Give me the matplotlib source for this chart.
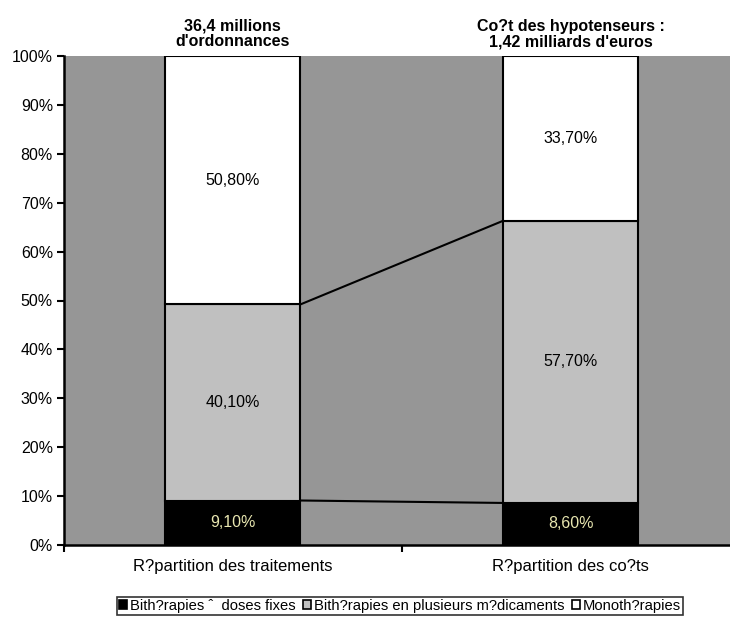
import matplotlib
matplotlib.use("Agg")
import matplotlib.pyplot as plt
from matplotlib.patches import Patch

plt.rcParams['font.family'] = ['Liberation Sans', 'DejaVu Sans']

categories = ["R?partition des traitements", "R?partition des co?ts"]
titles = ["36,4 millions\nd'ordonnances", "Co?t des hypotenseurs :\n1,42 milliards d'euros"]
series_names = ["Bith?rapies ˆ  doses fixes", "Bith?rapies en plusieurs m?dicaments", "Monoth?rapies"]
fixed = [9.1, 8.6]
multi = [40.1, 57.7]
mono = [50.8, 33.7]
labels_fixed = ["9,10%", "8,60%"]
labels_multi = ["40,10%", "57,70%"]
labels_mono = ["50,80%", "33,70%"]
yticks = [0, 10, 20, 30, 40, 50, 60, 70, 80, 90, 100]

colors = ["#000000", "#C0C0C0", "#FFFFFF"]
fs = 11.5
fig = plt.figure(figsize=(7.30, 6.17), dpi=100)
ax = fig.add_axes([64/730, 72/617, (739.5-64)/730, (545-56)/617])
ax.set_facecolor("#969696")
x = [0, 1]
w = 0.4
ax.bar(x, fixed, w, color=colors[0], edgecolor="black", linewidth=1.5, zorder=3)
ax.bar(x, multi, w, bottom=fixed, color=colors[1], edgecolor="black", linewidth=1.5, zorder=3)
bottom3 = [a + b for a, b in zip(fixed, multi)]
ax.bar(x, mono, w, bottom=bottom3, color=colors[2], edgecolor="black", linewidth=1.5, zorder=3)

# series lines
ax.plot([x[0] + w/2, x[1] - w/2], [fixed[0], fixed[1]], color="black", lw=1.5, zorder=4)
ax.plot([x[0] + w/2, x[1] - w/2], [bottom3[0], bottom3[1]], color="black", lw=1.5, zorder=4)

for i in range(2):
    ax.text(x[i], fixed[i]/2, labels_fixed[i], ha="center", va="center", color="#E8E6B0", fontsize=fs, zorder=5)
    ax.text(x[i], fixed[i] + multi[i]/2, labels_multi[i], ha="center", va="center", color="black", fontsize=fs, zorder=5)
    ax.text(x[i], bottom3[i] + mono[i]/2, labels_mono[i], ha="center", va="center", color="black", fontsize=fs, zorder=5)
    ax.text(x[i], 101.4, titles[i], ha="center", va="bottom", fontsize=fs, fontweight="bold",
            linespacing=1.05, clip_on=False)

ax.set_ylim(0, 100)
ax.set_xlim(-0.5, 1.5)
ax.set_yticks(yticks)
ax.set_yticklabels([f"{v}%" for v in yticks], fontsize=fs)
ax.set_xticks([-0.5, 0.5, 1.5])
ax.set_xticklabels([])
ax.set_xticks(x, minor=True)
ax.set_xticklabels(categories, minor=True, fontsize=12)
ax.tick_params(axis="x", which="minor", length=0, pad=10)
ax.tick_params(axis="x", which="major", length=5, width=1.5, direction="out")
ax.tick_params(axis="y", length=5, width=1.5, direction="out", pad=3)
for s in ["top", "right"]:
    ax.spines[s].set_visible(False)
ax.spines["left"].set_linewidth(1.8)
ax.spines["bottom"].set_linewidth(1.8)

handles = [Patch(facecolor=c, edgecolor="black", linewidth=1.2) for c in colors]
leg = fig.legend(handles, series_names, loc="center", bbox_to_anchor=(400/730, 11/617), ncol=3,
                 fontsize=10.6, frameon=True, fancybox=False, edgecolor="black",
                 handlelength=0.55, handleheight=0.55, handletextpad=0.2, columnspacing=0.5,
                 borderpad=0.15, borderaxespad=0)
leg.get_frame().set_linewidth(1.2)

fig.savefig("out.png", dpi=100)
